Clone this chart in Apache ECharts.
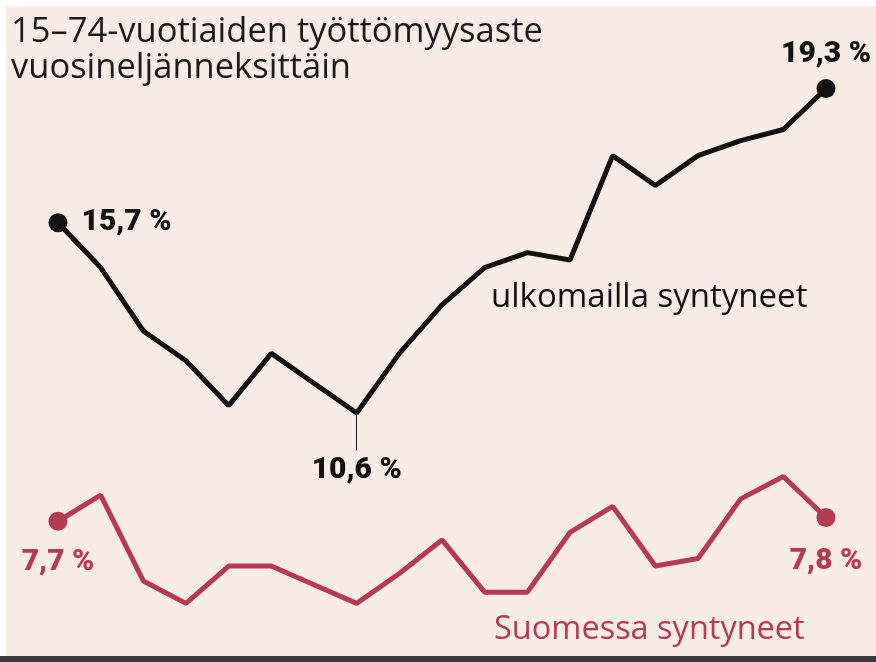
<!DOCTYPE html>
<html>
<head>
<meta charset="utf-8">
<title>Työttömyysaste</title>
<script src="https://cdn.jsdelivr.net/npm/echarts@6/dist/echarts.min.js"></script>
<style>
    html, body { margin: 0; padding: 0; background: #fff; }
    #chart { width: 876px; height: 662px; }
</style>
</head>
<body>
<div id="chart"></div>
<script>
// vuosineljännekset (19 kpl)
var quarters = ['Q1', 'Q2', 'Q3', 'Q4', 'Q5', 'Q6', 'Q7', 'Q8', 'Q9', 'Q10',
    'Q11', 'Q12', 'Q13', 'Q14', 'Q15', 'Q16', 'Q17', 'Q18', 'Q19'];

// ulkomailla syntyneet, %
var foreignBorn = [15.7, 14.5, 12.8, 12.0, 10.8, 12.2, 11.4, 10.6, 12.2, 13.5,
    14.5, 14.9, 14.7, 17.5, 16.7, 17.5, 17.9, 18.2, 19.3];

// Suomessa syntyneet, %
var finnishBorn = [7.7, 8.4, 6.1, 5.5, 6.5, 6.5, 6.0, 5.5, 6.3, 7.2,
    5.8, 5.8, 7.4, 8.1, 6.5, 6.7, 8.3, 8.9, 7.8];

var bg = '#f8ede6';
var red = '#b53a52';
var black = '#111111';
var labelFont = 'Roboto';

function fmt(v) {
    return String(v).replace('.', ',') + ' %';
}

// merkitään alku, loppu ja halutut pisteet
function buildData(values, marks, color) {
    var out = [];
    for (var i = 0; i < values.length; i++) {
        var item = { value: values[i] };
        var m = marks[i];
        if (m) {
            item.label = {
                show: true,
                position: m.pos,
                distance: m.dist,
                formatter: fmt(values[i]),
                color: color,
                fontFamily: labelFont,
                fontWeight: 900,
                fontSize: 30
            };
            item.symbol = 'circle';
            item.symbolSize = m.dot ? 19 : 0.5;
        }
        out.push(item);
    }
    return out;
}

var last = quarters.length - 1;

var blackMarks = {};
blackMarks[0] = { pos: 'right', dist: 14, dot: true };
blackMarks[7] = { pos: 'bottom', dist: 42, dot: false };
blackMarks[last] = { pos: 'top', dist: 9, dot: true };

var redMarks = {};
redMarks[0] = { pos: 'bottom', dist: 17, dot: true };
redMarks[last] = { pos: 'bottom', dist: 19, dot: true };

var myChart = echarts.init(document.getElementById('chart'));

var option = {
    backgroundColor: '#ffffff',
    animation: false,
    graphic: [
        { type: 'rect', z: -10, shape: { x: 6, y: 6, width: 870, height: 650 }, style: { fill: bg } },
        { type: 'rect', z: -10, shape: { x: 0, y: 656, width: 876, height: 6 }, style: { fill: '#3b3b3b' } },
        {
            type: 'text', left: 11, top: 14,
            style: {
                text: '15–74-vuotiaiden työttömyysaste\nvuosineljänneksittäin',
                fill: '#1a1a1a', font: '34.5px "Open Sans"', lineHeight: 36
            }
        },
        {
            type: 'text', left: 491, top: 281,
            style: { text: 'ulkomailla syntyneet', fill: black, font: '500 33px "Open Sans"' }
        },
        {
            type: 'text', left: 494, top: 613,
            style: { text: 'Suomessa syntyneet', fill: red, font: '500 32.5px "Open Sans"' }
        }
    ],
    grid: { left: 58, right: 50, top: 25, bottom: 40 },
    xAxis: {
        type: 'category',
        data: quarters,
        boundaryGap: false,
        show: false
    },
    yAxis: {
        type: 'value',
        min: 5,
        max: 21,
        show: false
    },
    series: [
        {
            name: 'ulkomailla syntyneet',
            type: 'line',
            data: buildData(foreignBorn, blackMarks, black),
            symbol: 'none',
            showAllSymbol: true,
            lineStyle: { color: black, width: 5 },
            itemStyle: { color: black },
            markLine: {
                silent: true,
                symbol: 'none',
                label: { show: false },
                lineStyle: { color: black, width: 1, type: 'solid' },
                data: [[{ coord: [7, 10.6] }, { coord: [7, 9.6] }]]
            }
        },
        {
            name: 'Suomessa syntyneet',
            type: 'line',
            data: buildData(finnishBorn, redMarks, red),
            symbol: 'none',
            showAllSymbol: true,
            lineStyle: { color: red, width: 5 },
            itemStyle: { color: red }
        }
    ]
};

myChart.setOption(option);
</script>
</body>
</html>
